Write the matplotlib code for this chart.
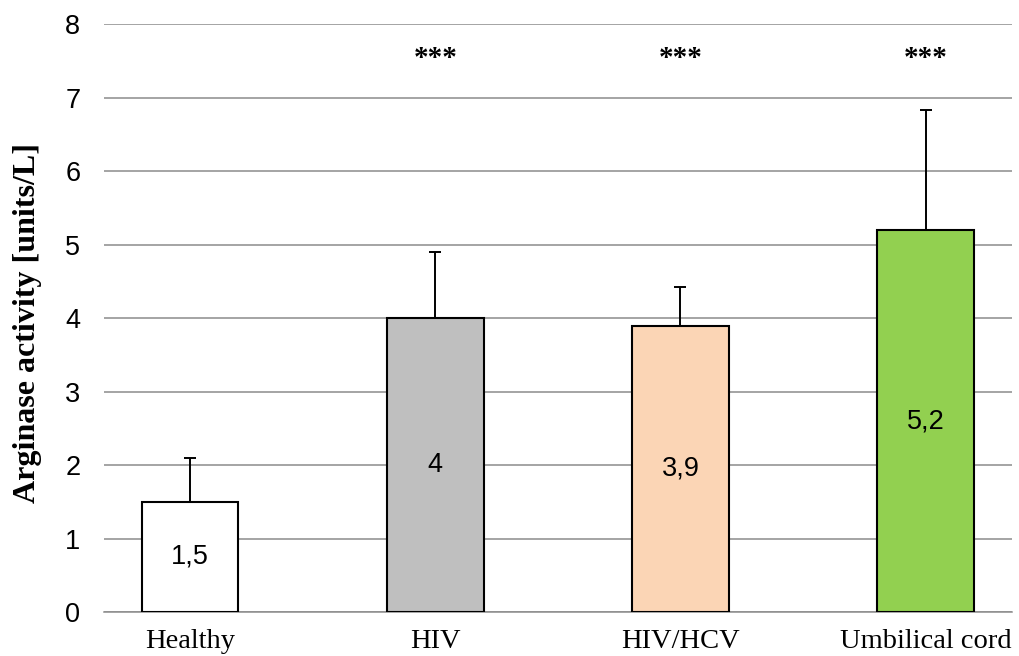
import matplotlib
matplotlib.use("Agg")
import matplotlib.pyplot as plt

categories = ["Healthy", "HIV", "HIV/HCV", "Umbilical cord"]
means = [1.5, 4.0, 3.9, 5.2]
errors_upper = [0.6, 0.9, 0.53, 1.63]
value_labels = ["1,5", "4", "3,9", "5,2"]
significance = ["", "***", "***", "***"]
bar_colors = ["#FFFFFF", "#BFBFBF", "#FBD5B5", "#92D050"]
y_ticks = [0, 1, 2, 3, 4, 5, 6, 7, 8]

fig = plt.figure(figsize=(10.19, 6.56), dpi=100)
ax = fig.add_axes([0.102, 0.067, 0.891, 0.896])

x = list(range(len(categories)))
ax.bar(x, means, width=0.393, color=bar_colors, edgecolor="black",
       linewidth=1.5, zorder=3)
ax.errorbar(x, means, yerr=[[0] * len(means), errors_upper], fmt="none",
            ecolor="black", elinewidth=1.4, capsize=4, capthick=1.4, zorder=4)

for xi, m, lab in zip(x, means, value_labels):
    ax.text(xi, m / 2, lab, ha="center", va="center", fontsize=19.5,
            family="Liberation Sans", zorder=5)

for xi, s in zip(x, significance):
    if s:
        ax.text(xi, 7.53, s, ha="center", va="center", fontsize=21,
                fontweight="bold", family="Liberation Serif")

ax.set_ylim(0, 8)
ax.set_xlim(-0.352, 3.352)
ax.set_yticks(y_ticks)
ax.set_yticklabels([str(t) for t in y_ticks], family="Liberation Sans", fontsize=19.5)
ax.set_xticks(x)
ax.set_xticklabels(categories, family="Liberation Serif", fontsize=20.5)
ax.tick_params(axis="y", length=0, pad=17)
ax.tick_params(axis="x", length=0, pad=12)
ax.yaxis.grid(True, color="#8C8C8C", linewidth=1.1, zorder=0)
ax.set_axisbelow(True)
for side in ["left", "right", "top"]:
    ax.spines[side].set_visible(False)
ax.spines["bottom"].set_color("#8C8C8C")
ax.spines["bottom"].set_linewidth(1.1)

ax.set_ylabel("Arginase activity [units/L]", family="Liberation Serif",
              fontsize=23, fontweight="bold")
ax.yaxis.set_label_coords(-0.068, 0.492)

fig.savefig("out.png", dpi=100)
